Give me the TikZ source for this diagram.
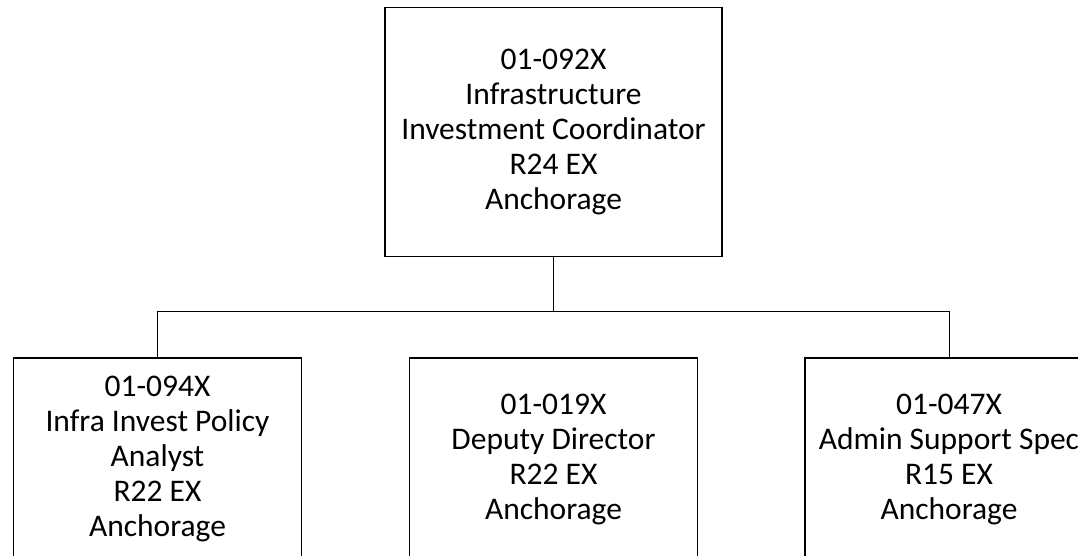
\documentclass[tikz,border=0pt]{standalone}
\usepackage{fontspec}
\setmainfont{Carlito}
\usetikzlibrary{positioning}
\tikzset{posbox/.style={draw, line width=1.2pt, align=center, inner sep=0pt,
    font=\fontsize{31.5}{35}\selectfont}}

\begin{document}
\begin{tikzpicture}[x=1pt,y=-1pt]

  \newcommand\BoxW{288pt}
  \newcommand\BoxH{202pt}

  \useasboundingbox (0,0) rectangle (1078,555);
  \clip (0,0) rectangle (1078,555);

  \node[posbox, minimum width=337pt, minimum height=249pt] (coord) at (553.5,132)
  {01-092X\\Infrastructure\\Investment Coordinator\\R24 EX\\Anchorage};

  \node[posbox, minimum width=\BoxW, minimum height=\BoxH] (analyst) at (157.5,459)
  {01-094X\\Infra Invest Policy\\Analyst\\R22 EX\\Anchorage};
  \node[posbox, minimum width=\BoxW, minimum height=\BoxH] (deputy) at (553.5,459)
  {01-019X\\Deputy Director\\R22 EX\\Anchorage};
  \node[posbox, minimum width=\BoxW, minimum height=\BoxH] (admin) at (949,459)
  {01-047X\\Admin Support Spec\\R15 EX\\Anchorage};

  \coordinate (bar) at (553.5,311);

  %% connectors
  \draw[line width=1pt] (coord.south) -- (bar);
  \draw[line width=1pt] (analyst.north) |- (admin.north |- bar) -- (admin.north);

\end{tikzpicture}
\end{document}
